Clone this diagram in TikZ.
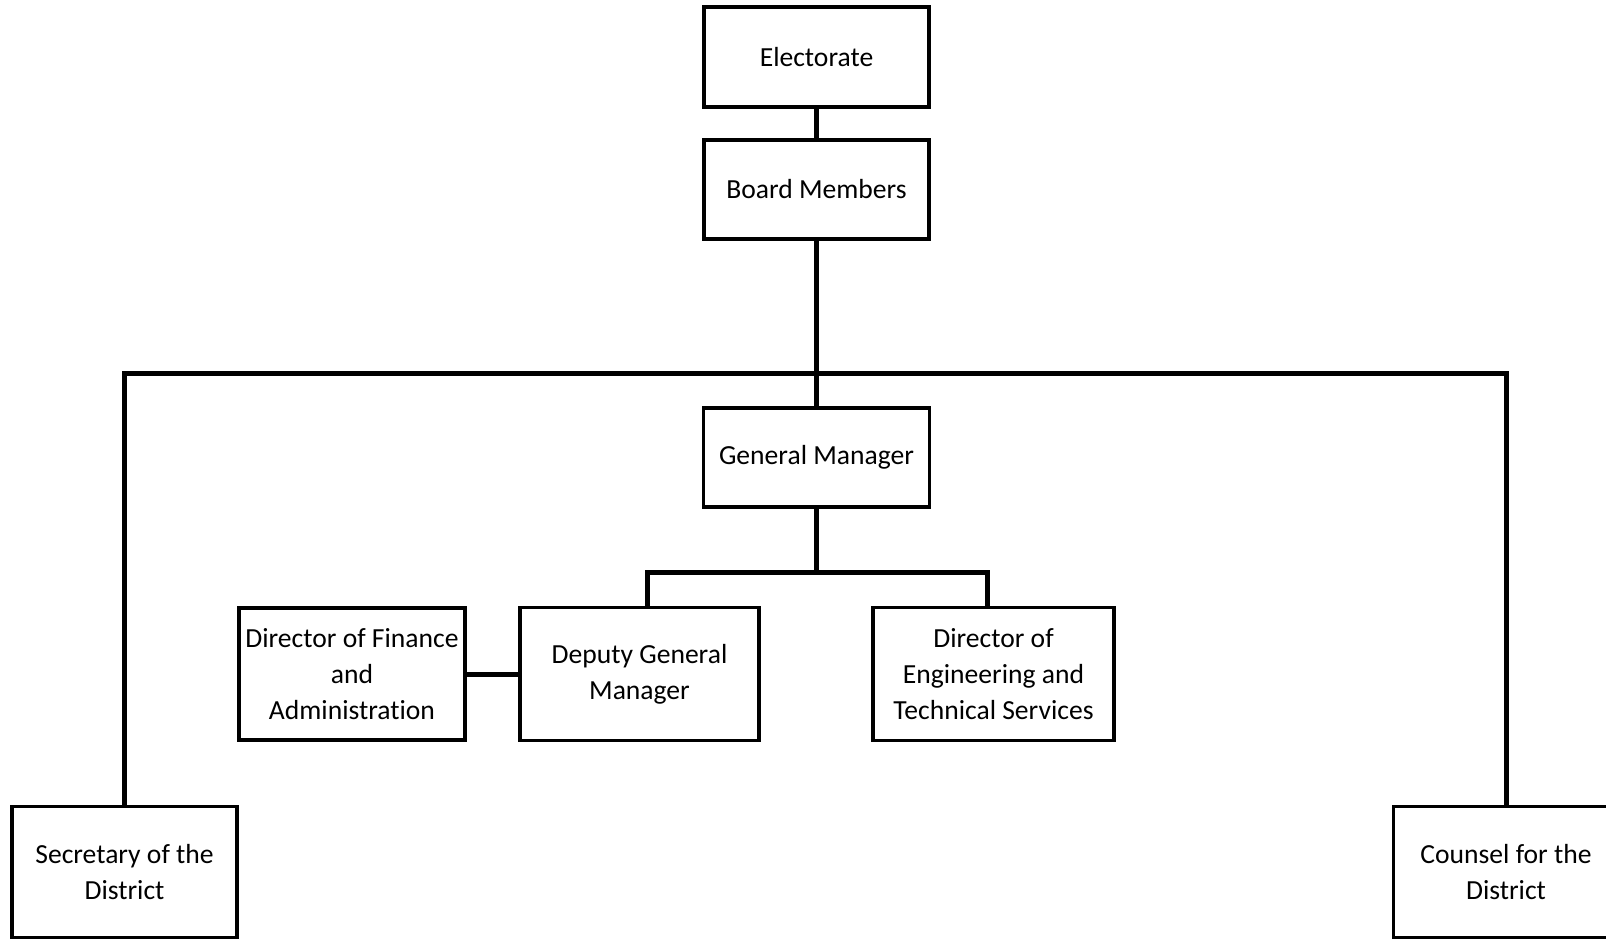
\documentclass[tikz,border=0pt]{standalone}
\usepackage{fontspec}
\setmainfont{Carlito}[Ligatures=NoCommon]
\usetikzlibrary{calc}
\usetikzlibrary{positioning}

\begin{document}
\begin{tikzpicture}[x=0.5pt, y=-0.5pt,
    post/.style={draw=black, line width=1.6pt, rectangle, align=center, inner sep=0pt,
        font=\fontsize{13.8}{18.2}\selectfont},
    link/.style={draw=black, line width=2.5pt}]
\useasboundingbox (0,0) rectangle (1606,939);
\node[post, minimum width=112.5pt, minimum height=50pt] (elect) at (816.5,57) {Electorate};
\node[post, minimum width=112.5pt, minimum height=49.5pt] (board) at (816.5,189.5) {Board Members};
\node[post, minimum width=113pt, minimum height=49.5pt] (gm) at (816.5,457.5) {General Manager};
\node[post, minimum width=119.5pt, minimum height=66.5pt] (deputy) at (639.5,674) {Deputy General\\Manager};
\node[post, minimum width=113pt, minimum height=66pt] (finance) at (352,674) {Director of Finance\\and\\Administration};
\node[post, minimum width=120.5pt, minimum height=66.5pt] (engineering) at (993.5,674) {Director of\\Engineering and\\Technical Services};
\node[post, minimum width=112.5pt, minimum height=65.5pt] (secretary) at (124.5,872) {Secretary of the\\District};
\node[post, minimum width=112.5pt, minimum height=65.5pt] (counsel) at (1506,872) {Counsel for the\\District};
\coordinate (bar) at (816.5,373);
\coordinate (split) at (816.5,572);
\draw[link] (elect.south) -- (board.north);
\draw[link] (board.south) -- (gm.north);
\draw[link] (secretary.north) |- (bar) -| (counsel.north);
\draw[link] (gm.south) -- (split);
\draw[link] ([xshift=4pt]deputy.north) |- (split) -| ([xshift=-3pt]engineering.north);
\draw[link] (finance.east) -- (deputy.west);
\end{tikzpicture}
\end{document}
